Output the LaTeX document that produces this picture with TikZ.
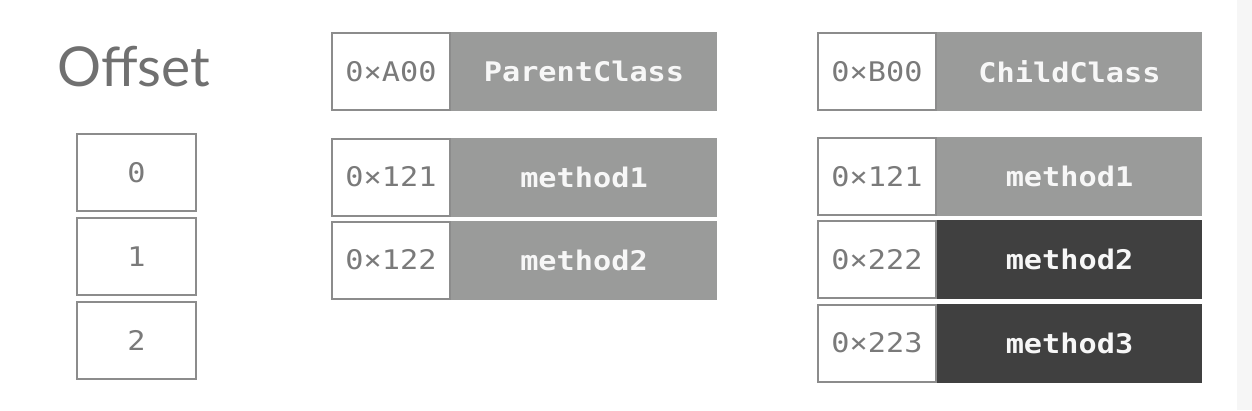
\documentclass[tikz,border=0pt]{standalone}
\usepackage{fontspec}
\newfontfamily\monof[FakeStretch=1.12]{DejaVu Sans Mono}
\newfontfamily\titlef{Lato}
\definecolor{bordergray}{HTML}{8C8C8C}
\definecolor{addrgray}{HTML}{7A7A7A}
\definecolor{midgray}{HTML}{9A9B9A}
\definecolor{darkbox}{HTML}{404040}
\definecolor{titlegray}{HTML}{707070}
\definecolor{textwhite}{HTML}{F7F7F7}
\definecolor{stripgray}{HTML}{F6F6F6}
\tikzset{
  addrbox/.style={draw=bordergray, line width=2pt, fill=white, minimum width=118pt,
    minimum height=77pt, inner sep=0pt, text=addrgray, font=\monof\fontsize{27}{30}\selectfont},
  namebox/.style={fill=#1, minimum width=266pt, minimum height=79pt, inner sep=0pt,
    text=textwhite, font=\monof\bfseries\fontsize{27}{30}\selectfont},
  offbox/.style={draw=bordergray, line width=2pt, fill=white, minimum width=119pt,
    minimum height=77pt, inner sep=0pt, text=addrgray, font=\monof\fontsize{27}{30}\selectfont}
}
\begin{document}
\begin{tikzpicture}[x=1pt,y=-1pt]
\useasboundingbox (0,0) rectangle (1252,410);
\fill[white] (0,0) rectangle (1252,410);
\fill[stripgray] (1237,0) rectangle (1252,410);

% Offset column
\node[anchor=base west, inner sep=0pt, text=titlegray, font=\titlef\fontsize{55}{60}\selectfont] (title) at (57,86) {Offset};
\node[offbox] (o0) at (136.5,172.5) {0};
\node[offbox] (o1) at (136.5,256.5) {1};
\node[offbox] (o2) at (136.5,340) {2};

% Parent class
\node[namebox=midgray] (pname) at (584,71.5) {ParentClass};
\node[addrbox] (paddr) at (391,71.5) {0×A00};
\node[namebox=midgray] (pm1) at (584,177) {method1};
\node[addrbox] (pa1) at (391,177) {0×121};
\node[namebox=midgray] (pm2) at (584,260) {method2};
\node[addrbox] (pa2) at (391,260) {0×122};

% Child class
\node[namebox=midgray, minimum width=265pt] (cname) at (1069.5,71.5) {ChildClass};
\node[addrbox] (caddr) at (877,71.5) {0×B00};
\node[namebox=midgray, minimum width=265pt] (cm1) at (1069.5,176.5) {method1};
\node[addrbox] (ca1) at (877,176.5) {0×121};
\node[namebox=darkbox, minimum width=265pt] (cm2) at (1069.5,259.5) {method2};
\node[addrbox] (ca2) at (877,259.5) {0×222};
\node[namebox=darkbox, minimum width=265pt] (cm3) at (1069.5,343) {method3};
\node[addrbox] (ca3) at (877,343) {0×223};
\end{tikzpicture}
\end{document}
